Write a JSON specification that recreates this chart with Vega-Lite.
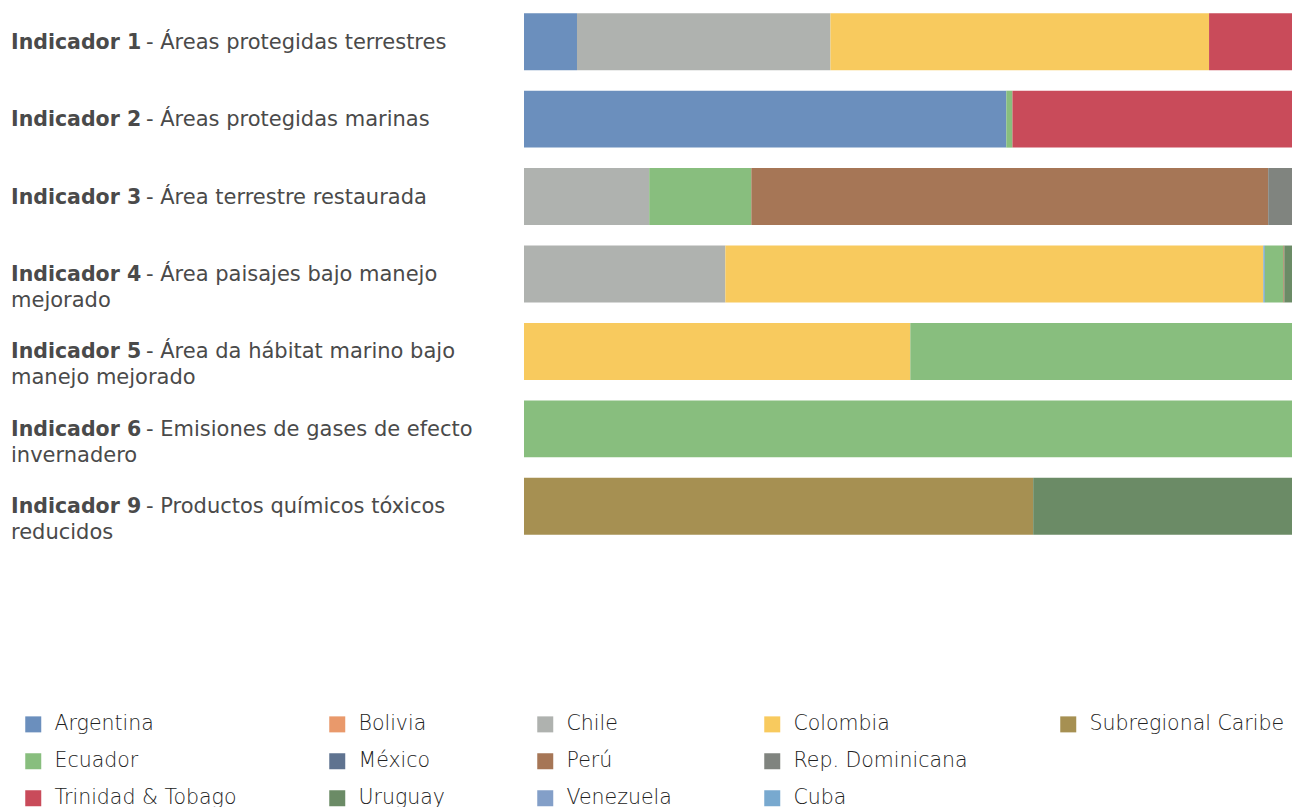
{
  "$schema": "https://vega.github.io/schema/vega-lite/v6.json",
  "padding": {"left": 11, "top": 3, "right": 0, "bottom": 0},
  "background": "white",
  "config": {"view": {"stroke": null}, "concat": {"spacing": 10}},
  "datasets": {
    "labels": [
      {"id": "Indicador 1", "t1": "- Áreas protegidas terrestres", "t2": ""},
      {"id": "Indicador 2", "t1": "- Áreas protegidas marinas", "t2": ""},
      {"id": "Indicador 3", "t1": "- Área terrestre restaurada", "t2": ""},
      {"id": "Indicador 4", "t1": "- Área paisajes bajo manejo", "t2": "mejorado"},
      {"id": "Indicador 5", "t1": "- Área da hábitat marino bajo", "t2": "manejo mejorado"},
      {"id": "Indicador 6", "t1": "- Emisiones de gases de efecto", "t2": "invernadero"},
      {"id": "Indicador 9", "t1": "- Productos químicos tóxicos", "t2": "reducidos"}
    ],
    "bars": [
      {"id": "Indicador 1", "pais": "Argentina", "valor": 6.9},
      {"id": "Indicador 1", "pais": "Chile", "valor": 33.0},
      {"id": "Indicador 1", "pais": "Colombia", "valor": 49.3},
      {"id": "Indicador 1", "pais": "Trinidad & Tobago", "valor": 10.8},
      {"id": "Indicador 2", "pais": "Argentina", "valor": 62.8},
      {"id": "Indicador 2", "pais": "Ecuador", "valor": 0.8},
      {"id": "Indicador 2", "pais": "Trinidad & Tobago", "valor": 36.4},
      {"id": "Indicador 3", "pais": "Chile", "valor": 16.3},
      {"id": "Indicador 3", "pais": "Ecuador", "valor": 13.3},
      {"id": "Indicador 3", "pais": "Perú", "valor": 67.3},
      {"id": "Indicador 3", "pais": "Rep. Dominicana", "valor": 3.1},
      {"id": "Indicador 4", "pais": "Chile", "valor": 26.2},
      {"id": "Indicador 4", "pais": "Colombia", "valor": 70.0},
      {"id": "Indicador 4", "pais": "Cuba", "valor": 0.2},
      {"id": "Indicador 4", "pais": "Ecuador", "valor": 2.4},
      {"id": "Indicador 4", "pais": "Perú", "valor": 0.13},
      {"id": "Indicador 4", "pais": "Uruguay", "valor": 1.0},
      {"id": "Indicador 5", "pais": "Colombia", "valor": 50.3},
      {"id": "Indicador 5", "pais": "Ecuador", "valor": 49.7},
      {"id": "Indicador 6", "pais": "Ecuador", "valor": 100},
      {"id": "Indicador 9", "pais": "Subregional Caribe", "valor": 66.3},
      {"id": "Indicador 9", "pais": "Uruguay", "valor": 33.7}
    ]
  },
  "resolve": {"scale": {"color": "shared"}, "legend": {"color": "shared"}},
  "hconcat": [
    {
      "width": 503,
      "height": 542,
      "data": {"name": "labels"},
      "encoding": {
        "y": {"field": "id", "type": "nominal", "sort": null, "axis": null,
              "scale": {"paddingInner": 0.2645, "paddingOuter": 0.13225}}
      },
      "layer": [
        {"mark": {"type": "text", "align": "left", "baseline": "middle", "font": "DejaVu Sans", "fontWeight": "bold", "fontSize": 20.5, "color": "#4a4a4a", "x": 0, "dy": 1},
         "encoding": {"text": {"field": "id"}}},
        {"mark": {"type": "text", "align": "left", "baseline": "middle", "font": "DejaVu Sans", "fontWeight": "normal", "fontSize": 21, "color": "#4a4a4a", "x": 0, "dx": 135, "dy": 1},
         "encoding": {"text": {"field": "t1"}}},
        {"mark": {"type": "text", "align": "left", "baseline": "middle", "font": "DejaVu Sans", "fontWeight": "normal", "fontSize": 21, "color": "#4a4a4a", "x": 0, "dy": 27},
         "encoding": {"text": {"field": "t2"}}}
      ]
    },
    {
      "width": 768,
      "height": 542,
      "data": {"name": "bars"},
      "mark": {"type": "bar"},
      "encoding": {
        "y": {"field": "id", "type": "nominal", "sort": null, "axis": null,
              "scale": {"paddingInner": 0.2645, "paddingOuter": 0.13225}},
        "x": {"field": "valor", "type": "quantitative", "stack": "normalize", "axis": null},
        "order": {"field": "pais", "sort": "ascending"},
        "color": {
          "field": "pais", "type": "nominal",
          "scale": {
            "domain": ["Argentina", "Bolivia", "Chile", "Colombia", "Subregional Caribe", "Ecuador", "México", "Perú", "Rep. Dominicana", " ", "Trinidad & Tobago", "Uruguay", "Venezuela", "Cuba"],
            "range": ["#6B8FBD", "#E9996B", "#AFB2AF", "#F8CA5E", "#A69052", "#88BE7E", "#5F7390", "#A67656", "#80847F", "transparent", "#C94B5A", "#6B8B66", "#839FC8", "#78A9CF"]
          },
          "legend": {
            "title": null, "orient": "none", "legendX": 12, "legendY": 711,
            "direction": "horizontal", "columns": 5, "gridAlign": "each",
            "columnPadding": 90, "rowPadding": 16,
            "symbolType": "square", "symbolSize": 256, "symbolStrokeWidth": 0,
            "labelFont": "DejaVu Sans", "labelFontSize": 20.5, "labelFontWeight": 200,
            "labelColor": "#222222", "labelOffset": 11, "labelLimit": 0
          }
        }
      }
    }
  ]
}
